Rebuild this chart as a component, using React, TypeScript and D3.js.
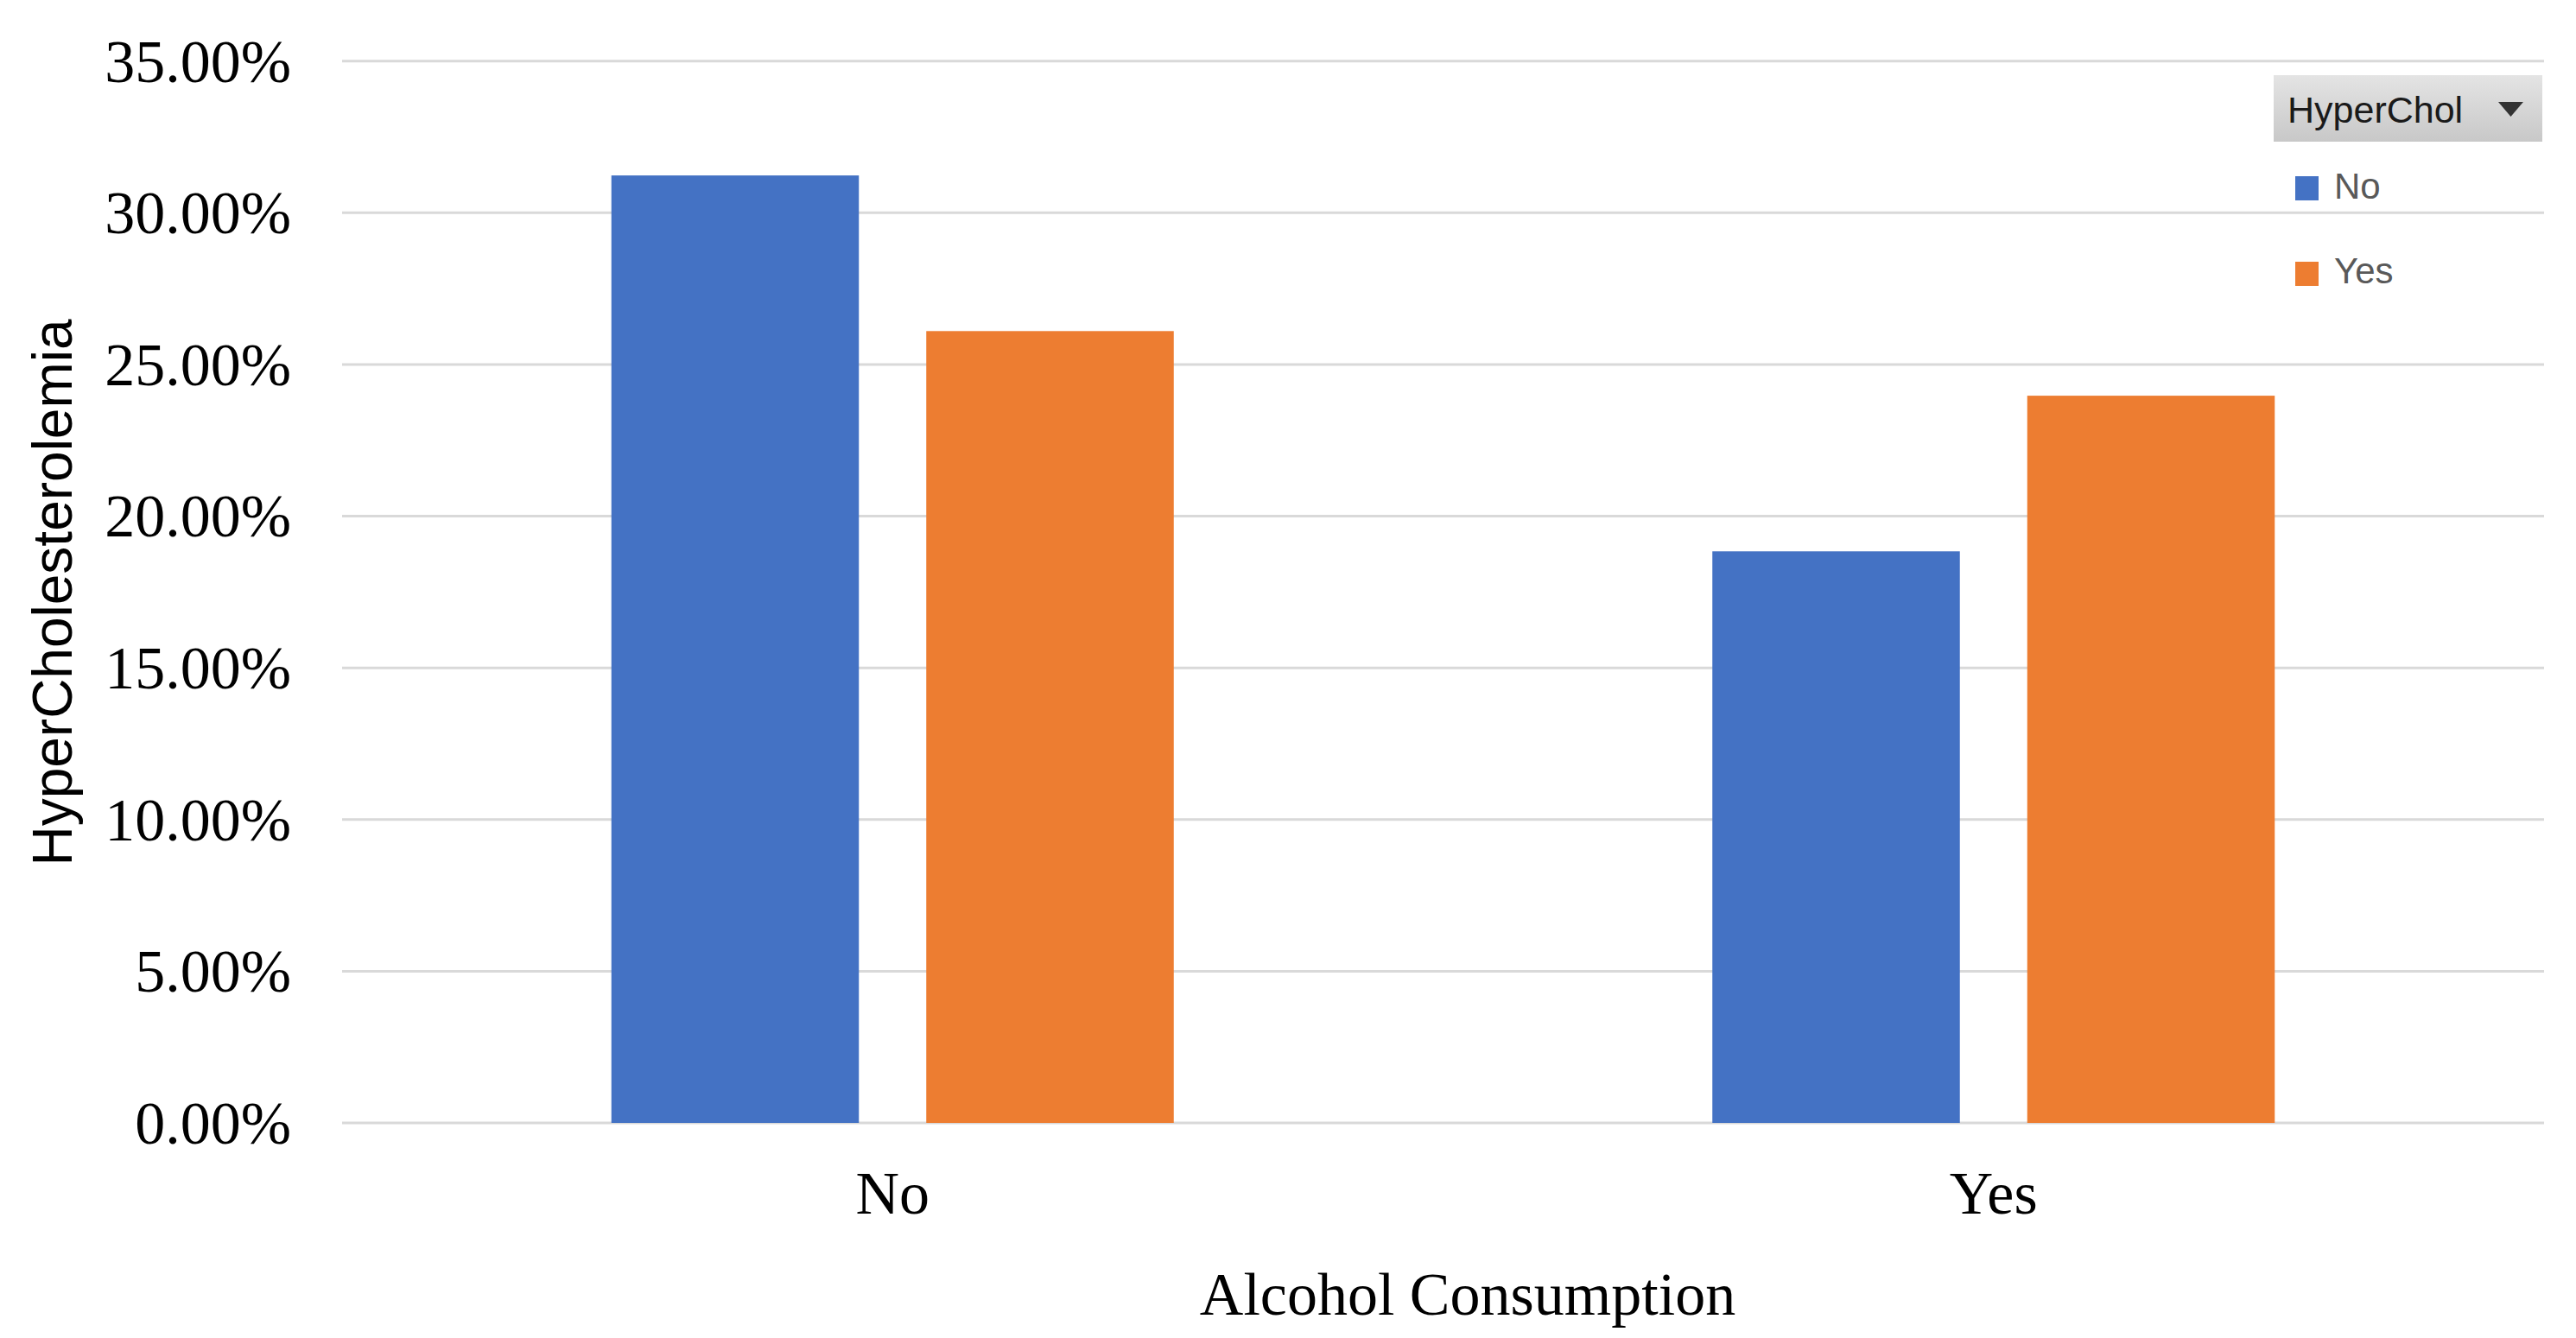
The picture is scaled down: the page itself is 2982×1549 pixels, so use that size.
import React from "react";
import * as d3 from "d3";

const categories = ["No", "Yes"];
const seriesNames = ["No", "Yes"];
const seriesNo = [0.3123, 0.1884];
const seriesYes = [0.261, 0.2397];
const yTicks = [0, 0.05, 0.1, 0.15, 0.2, 0.25, 0.3, 0.35];
const colors = ["#4472C4", "#ED7D31"];
const xTitle = "Alcohol Consumption";
const yTitle = "HyperCholesterolemia";
const legendTitle = "HyperChol";

const W = 2982;
const H = 1549;
const left = 396;
const right = 2945;
const top = 70.7;
const bottom = 1300;

export default function App() {
  const x = d3.scaleBand<string>().domain(categories).range([left, right]).padding(0);
  const groupW = x.bandwidth() * 0.5108;
  const xs = d3
    .scaleBand<string>()
    .domain(seriesNames)
    .range([-groupW / 2, groupW / 2])
    .paddingInner(0.214)
    .paddingOuter(0);
  const y = d3.scaleLinear().domain([0, 0.35]).range([bottom, top]);
  const fmt = (v: number) => (v * 100).toFixed(2) + "%";
  const data = [seriesNo, seriesYes];

  return (
    <svg
      width={W}
      height={H}
      viewBox={`0 0 ${W} ${H}`}
      style={{ position: "absolute", left: 0, top: 0, background: "#fff" }}
    >
      <defs>
        <linearGradient id="lgHead" x1="0" y1="0" x2="0" y2="1">
          <stop offset="0" stopColor="#e4e4e4" />
          <stop offset="1" stopColor="#c8c8c8" />
        </linearGradient>
      </defs>
      <rect x={0} y={0} width={W} height={H} fill="#fff" />
      {yTicks.map((t) => (
        <g key={t}>
          <line x1={left} x2={right} y1={y(t)} y2={y(t)} stroke="#d9d9d9" strokeWidth={3} />
          <text
            x={337}
            y={y(t)}
            dy="0.34em"
            textAnchor="end"
            fontFamily="'Liberation Serif', 'Times New Roman', serif"
            fontSize={70}
            fill="#000"
          >
            {fmt(t)}
          </text>
        </g>
      ))}
      {categories.map((c, ci) => {
        const cx = (x(c) as number) + x.bandwidth() / 2;
        return (
          <g key={c}>
            {seriesNames.map((s, si) => {
              const v = data[si][ci];
              return (
                <rect
                  key={s}
                  x={cx + (xs(s) as number)}
                  y={y(v)}
                  width={xs.bandwidth()}
                  height={y(0) - y(v)}
                  fill={colors[si]}
                />
              );
            })}
            <text
              x={cx}
              y={1405}
              textAnchor="middle"
              fontFamily="'Liberation Serif', 'Times New Roman', serif"
              fontSize={70}
              fill="#000"
            >
              {c}
            </text>
          </g>
        );
      })}
      <text
        x={1699}
        y={1522}
        textAnchor="middle"
        fontFamily="'Liberation Serif', 'Times New Roman', serif"
        fontSize={70}
        fill="#000"
      >
        {xTitle}
      </text>
      <text
        transform={`translate(83, 686) rotate(-90)`}
        textAnchor="middle"
        fontFamily="'Liberation Sans', Arial, sans-serif"
        fontSize={64}
        fill="#000"
      >
        {yTitle}
      </text>
      <g>
        <rect x={2632} y={87} width={311} height={77} fill="url(#lgHead)" />
        <text
          x={2648}
          y={142}
          fontFamily="'Liberation Sans', Arial, sans-serif"
          fontSize={43}
          fill="#1a1a1a"
        >
          {legendTitle}
        </text>
        <polygon points="2892,118 2921,118 2906.5,135" fill="#333" />
        {seriesNames.map((s, i) => (
          <g key={s}>
            <rect x={2657} y={204 + i * 99} width={27} height={28} fill={colors[i]} />
            <text
              x={2702}
              y={230 + i * 98}
              fontFamily="'Liberation Sans', Arial, sans-serif"
              fontSize={42}
              fill="#595959"
            >
              {s}
            </text>
          </g>
        ))}
      </g>
    </svg>
  );
}
